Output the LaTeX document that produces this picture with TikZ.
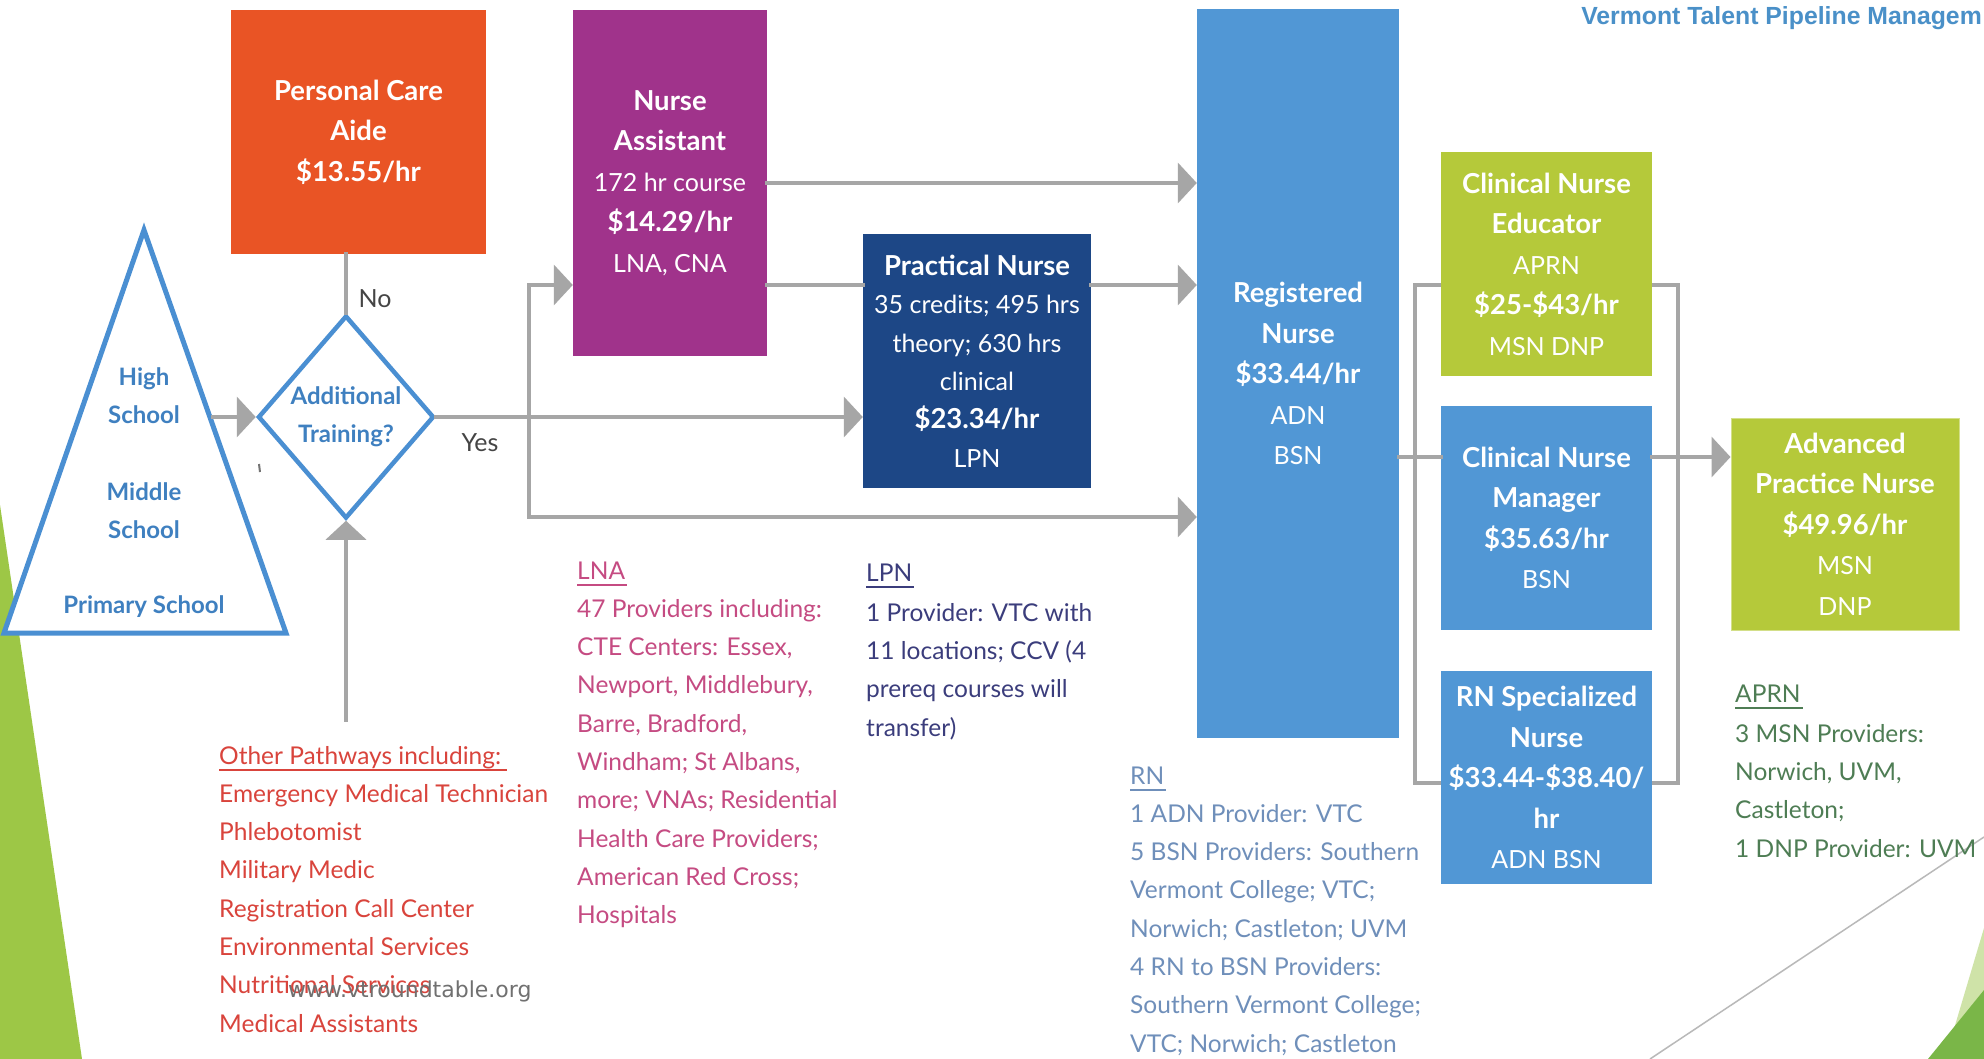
\documentclass[tikz,border=0pt]{standalone}
\usepackage{fontspec}
\setmainfont{Lato}
\newfontfamily\wmfont{DejaVu Sans}
\newfontfamily\titlefont{Liberation Sans}
\usetikzlibrary{arrows.meta,shapes.geometric,calc}
\definecolor{pcaC}{HTML}{E95425}
\definecolor{naC}{HTML}{A0338B}
\definecolor{pnC}{HTML}{1D4786}
\definecolor{rnC}{HTML}{5197D5}
\definecolor{grC}{HTML}{B5C93A}
\definecolor{lnC}{HTML}{A6A6A6}
\definecolor{pyC}{HTML}{4A8FD2}
\definecolor{pyT}{HTML}{3F80C0}
\definecolor{leafC}{HTML}{9DC746}
\definecolor{leafL}{HTML}{CFE3A8}
\definecolor{leafD}{HTML}{7AB648}
\definecolor{lnaC}{HTML}{C54B82}
\definecolor{othC}{HTML}{D9443C}
\definecolor{lpnC}{HTML}{3B3D7C}
\definecolor{rnT}{HTML}{6F8FBA}
\definecolor{apC}{HTML}{4E7D54}
\definecolor{titleC}{HTML}{4A90C8}
\definecolor{wmC}{HTML}{707070}
\definecolor{lblC}{HTML}{454545}
\newcommand\hb[1]{{\fontsize{27.5}{40.5}\selectfont\bfseries #1}}
\begin{document}
\begin{tikzpicture}[x=1pt,y=-1pt,
  box/.style={rectangle, inner sep=0pt, text=white, align=center, font=\fontsize{25}{40.5}\selectfont},
  conn/.style={draw=lnC, line width=4pt, line cap=rect},
  bar/.style={draw=lnC, line width=3.5pt},
  arr/.style={conn, -{Triangle[length=19pt,width=40pt]}},
  blk/.style={anchor=north west, inner sep=0pt, align=left, font=\fontsize{24.5}{38.3}\selectfont},
  hd/.style={anchor=base west, inner sep=0pt, text depth=6pt, font=\fontsize{24.5}{30}\selectfont},
  ul/.style={line width=2pt},
  pyt/.style={text=pyT, align=center, inner sep=0pt, font=\fontsize{24}{38}\selectfont\bfseries}]
\useasboundingbox (0,0) rectangle (1984,1059);
\fill[white] (0,0) rectangle (1984,1059);
% decorations
\fill[leafC] (0,505) -- (82,1059) -- (0,1059) -- cycle;
\draw[gray!55, line width=1.5pt] (1650,1059) -- (1984,837);
\fill[leafL] (1984,928) -- (1945,1059) -- (1984,1059) -- cycle;
\fill[leafD] (1984,990) -- (1928,1059) -- (1984,1059) -- cycle;
% pyramid
\draw[pyC, line width=5pt, fill=white, line join=miter] (144,230) -- (286,633) -- (4,633) -- cycle;
\node[pyt] (hs) at (144,396) {High\\School};
\node[pyt] (ms) at (144,511) {Middle\\School};
\node[pyt] (ps) at (144,607) {Primary School};
\draw[lnC!70!black, line width=2pt] (259,464) -- (260,472);
% diamond
\node[diamond, draw=pyC, line width=4.5pt, fill=white, minimum width=176pt, minimum height=203pt, inner sep=0pt, align=center, text=pyT, font=\fontsize{24}{38}\selectfont\bfseries] (diam) at (346,417) {Additional\\Training?};
% boxes
\node[box, fill=pcaC, minimum width=255pt, minimum height=244pt] (pca) at (358.5,132) {\hb{Personal Care}\\\hb{Aide}\\\hb{\$13.55/hr}};
\node[box, fill=naC, minimum width=194pt, minimum height=346pt] (na) at (670,183) {\hb{Nurse}\\\hb{Assistant}\\172 hr course\\\hb{\$14.29/hr}\\LNA, CNA};
\node[box, fill=pnC, minimum width=228pt, minimum height=254pt, font=\fontsize{25}{38.4}\selectfont] (pn) at (977,361) {\hb{Practical Nurse}\\35 credits; 495 hrs\\theory; 630 hrs\\clinical\\\hb{\$23.34/hr}\\LPN};
\node[box, fill=rnC, minimum width=202pt, minimum height=729pt] (rn) at (1298,373.5) {\hb{Registered}\\\hb{Nurse}\\\hb{\$33.44/hr}\\ADN\\BSN};
\node[box, fill=grC, minimum width=211pt, minimum height=224pt] (cne) at (1546.5,264) {\hb{Clinical Nurse}\\\hb{Educator}\\APRN\\\hb{\$25-\$43/hr}\\MSN DNP};
\node[box, fill=rnC, minimum width=211pt, minimum height=224pt] (cnm) at (1546.5,518) {\hb{Clinical Nurse}\\\hb{Manager}\\\hb{\$35.63/hr}\\BSN};
\node[box, fill=rnC, minimum width=211pt, minimum height=213pt] (rns) at (1546.5,777.5) {\hb{RN Specialized}\\\hb{Nurse}\\\hb{\$33.44-\$38.40/}\\\hb{hr}\\ADN BSN};
\node[box, fill=grC, draw=grC!60!white, line width=1pt, minimum width=228pt, minimum height=212pt] (apn) at (1845,524) {\hb{Advanced}\\\hb{Practice Nurse}\\\hb{\$49.96/hr}\\MSN\\DNP};
% labels
\node[text=lblC, font=\fontsize{25}{30}\selectfont] (noL) at (375,299) {No};
\node[text=lblC, font=\fontsize{25}{30}\selectfont] (yesL) at (480,443) {Yes};
% connectors
\coordinate (pyrR) at (213,417);
\draw[arr] (pyrR) -- (diam.west);
\draw[conn] (diam.north) -- (diam.north |- pca.south);
\coordinate (otherTop) at (346,720);
\draw[arr] (otherTop) -- (diam.south);
\draw[arr] (diam.east) -- (diam.east -| pn.west);
\coordinate (j1) at (529,285);
\coordinate (j2) at (529,517);
\draw[arr] (j2) -- (j1) -- (j1 -| na.west);
\draw[arr] (j2) -- (j2 -| rn.west);
\draw[arr] (na.east) -- (na.east -| rn.west);
\coordinate (k) at (767,285);
\draw[conn] (k) -- (k -| pn.west);
\draw[arr] (k -| pn.east) -- (k -| rn.west);
\coordinate (m) at (1399,457);
\draw[conn] (m) -- (m -| cnm.west);
\coordinate (lb1) at (1415,285);
\coordinate (lb2) at (1415,783);
\draw[bar] (lb1 -| cne.west) -- (lb1) -- (lb2) -- (lb2 -| rns.west);
\coordinate (rb1) at (1678,285);
\coordinate (rb2) at (1678,783);
\draw[bar] (rb1 -| cne.east) -- (rb1) -- (rb2) -- (rb2 -| rns.east);
\draw[arr] (m -| cnm.east) -- (m -| apn.west);
% text blocks
\node[hd, text=othC] (othH) at (219,764) {Other Pathways including:};
\draw[othC, ul] ($(othH.south west)$) -- ($(othH.south east)+(6,0)$);
\node[blk, text=othC] (othB) at (219,784) {Emergency Medical Technician\\Phlebotomist\\Military Medic\\Registration Call Center\\Environmental Services\\Nutritional Services\\Medical Assistants};
\node[hd, text=lnaC] (lnaH) at (577,579) {LNA};
\draw[lnaC, ul] (lnaH.south west) -- ($(lnaH.south east)+(2,0)$);
\node[blk, text=lnaC] (lnaB) at (577,599) {47 Providers including:\\CTE Centers: Essex,\\Newport, Middlebury,\\Barre, Bradford,\\Windham; St Albans,\\more; VNAs; Residential\\Health Care Providers;\\American Red Cross;\\Hospitals};
\node[hd, text=lpnC] (lpnH) at (866,581) {LPN};
\draw[lpnC, ul] (lpnH.south west) -- ($(lpnH.south east)+(2,0)$);
\node[blk, text=lpnC] (lpnB) at (866,603) {1 Provider: VTC with\\11 locations; CCV (4\\prereq courses will\\transfer)};
\node[hd, text=rnT] (rnH) at (1130,784) {RN};
\draw[rnT, ul] (rnH.south west) -- ($(rnH.south east)+(2,0)$);
\node[blk, text=rnT] (rnB) at (1130,804) {1 ADN Provider: VTC\\5 BSN Providers: Southern\\Vermont College; VTC;\\Norwich; Castleton; UVM\\4 RN to BSN Providers:\\Southern Vermont College;\\VTC; Norwich; Castleton};
\node[hd, text=apC] (apH) at (1735,702) {APRN};
\draw[apC, ul] (apH.south west) -- ($(apH.south east)+(2,0)$);
\node[blk, text=apC] (apB) at (1735,724) {3 MSN Providers:\\Norwich, UVM,\\Castleton;\\1 DNP Provider: UVM};
% watermark and title
\node[anchor=base west, inner sep=0pt, text=wmC, font=\wmfont\fontsize{22}{24}\selectfont] (wm) at (288,997) {www.vtroundtable.org};
\node[anchor=base east, inner sep=0pt, text=titleC, font=\titlefont\bfseries\fontsize{24.8}{27}\selectfont] (title) at (1982,25) {Vermont Talent Pipeline Managem};
\end{tikzpicture}
\end{document}
